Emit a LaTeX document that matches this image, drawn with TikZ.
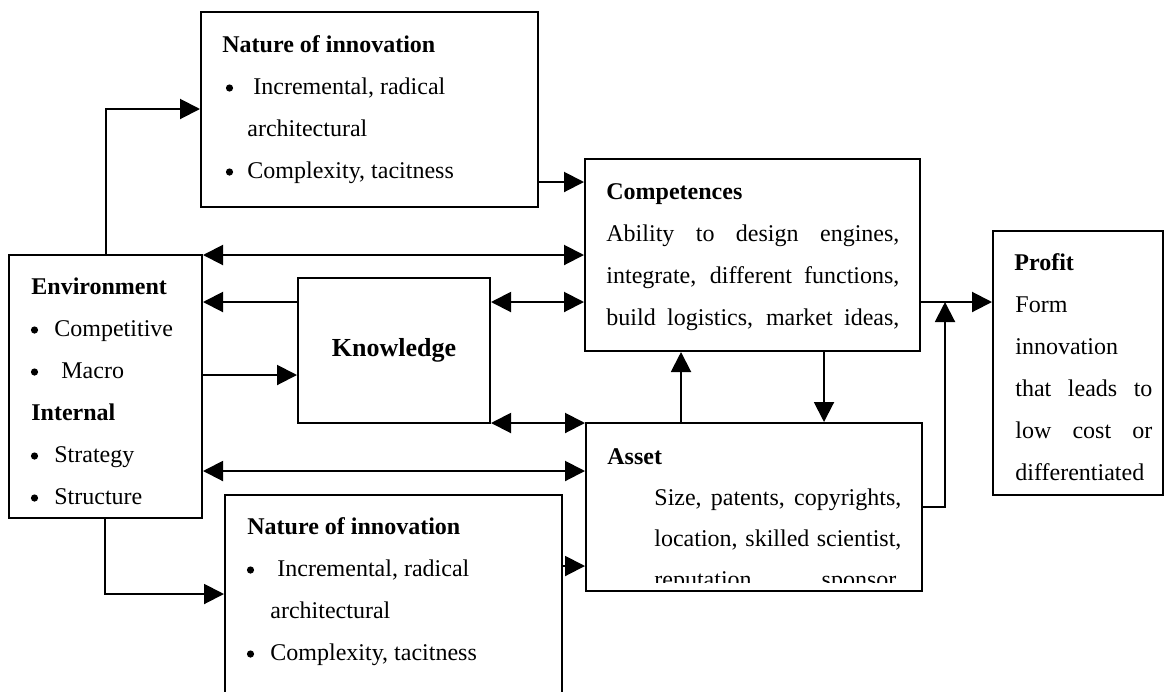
\documentclass[tikz,border=0pt]{standalone}
\usepackage{fontspec}
\setmainfont{Liberation Serif}
\usetikzlibrary{arrows.meta,fit}
\begin{document}
\begin{tikzpicture}[x=0.5pt,y=-0.5pt,
  box/.style={draw,line width=1pt,inner sep=0pt},
  txt/.style={anchor=base west,inner sep=0pt,font=\fontsize{12}{14}\selectfont},
  ttl/.style={txt,font=\fontsize{12}{14}\selectfont\bfseries},
  dot/.style={circle,fill,inner sep=0pt,minimum size=3.6pt},
  conn/.style={line width=1pt},
  arr/.style={conn,-{Triangle[length=10pt,width=10pt]}},
  darr/.style={conn,{Triangle[length=10pt,width=10pt]}-{Triangle[length=10pt,width=10pt]}}]
\clip (0,0) rectangle (1165,691);
\fill[white] (0,0) rectangle (1165,691);
% boxes
\node[box,fit={(201,12) (538,207)}] (nattop) {};
\node[box,fit={(585,159) (920,351)}] (comp) {};
\node[box,fit={(993,231) (1163,495)}] (profit) {};
\node[box,fit={(9,255) (202,518)}] (env) {};
\node[box,fit={(298,278) (490,423)}] (know) {};
\node[box,fit={(586,423) (922,591)}] (asset) {};
\node[box,fit={(225,495) (562,760)}] (natbot) {};
% top nature of innovation
\node[ttl] (nt1) at (222,52) {Nature of innovation};
\node[dot] (nt2b) at (229.5,88) {};
\node[txt] (nt2) at (253,94) {Incremental, radical};
\node[txt] (nt3) at (247,136) {architectural};
\node[dot] (nt4b) at (229.5,172) {};
\node[txt] (nt4) at (247,178) {Complexity, tacitness};
% competences
\node[ttl] (ct1) at (606,199) {Competences};
\node[txt] (ct2) at (606,241) {\makebox[146.5pt][s]{Ability to design engines,}};
\node[txt] (ct3) at (606,283) {\makebox[146.5pt][s]{integrate, different functions,}};
\node[txt] (ct4) at (606,325) {\makebox[146.5pt][s]{build logistics, market ideas,}};
% profit
\node[ttl] (pt1) at (1014,270) {Profit};
\node[txt] (pt2) at (1015,312) {Form};
\node[txt] (pt3) at (1015,354) {innovation};
\node[txt] (pt4) at (1015,396) {\makebox[68.5pt][s]{that leads to}};
\node[txt] (pt5) at (1015,438) {\makebox[68.5pt][s]{low cost or}};
\node[txt] (pt6) at (1015,480) {differentiated};
% environment
\node[ttl] (et1) at (31,294) {Environment};
\node[dot] (et2b) at (34.5,330) {};
\node[txt] (et2) at (54,336) {Competitive};
\node[dot] (et3b) at (34.5,372) {};
\node[txt] (et3) at (61,378) {Macro};
\node[ttl] (et4) at (31,420) {Internal};
\node[dot] (et5b) at (34.5,456) {};
\node[txt] (et5) at (54,462) {Strategy};
\node[dot] (et6b) at (34.5,498) {};
\node[txt] (et6) at (54,504) {Structure};
% knowledge
\node[inner sep=0pt,font=\fontsize{13}{15}\selectfont\bfseries] (kt) at (know.center) {Knowledge};
% asset
\node[ttl] (at1) at (607,464) {Asset};
\begin{scope}
\clip (586,423) rectangle (922,582);
\node[txt] (at2) at (654,505) {\makebox[123.5pt][s]{Size, patents, copyrights,}};
\node[txt] (at3) at (654,546) {\makebox[123.5pt][s]{location, skilled scientist,}};
\node[txt] (at4) at (654,587) {\makebox[123.5pt][s]{reputation, sponsor,}};
\end{scope}
% bottom nature of innovation
\node[ttl] (nb1) at (247,534) {Nature of innovation};
\node[dot] (nb2b) at (250.5,570) {};
\node[txt] (nb2) at (277,576) {Incremental, radical};
\node[txt] (nb3) at (270,618) {architectural};
\node[dot] (nb4b) at (250.5,654) {};
\node[txt] (nb4) at (270,660) {Complexity, tacitness};
% lane coordinates
\coordinate (lnA) at (106,109);
\coordinate (lnB) at (0,182);
\coordinate (lnC) at (0,255);
\coordinate (lnD) at (0,302);
\coordinate (lnE) at (0,375);
\coordinate (lnF) at (0,423);
\coordinate (lnG) at (0,471);
\coordinate (lnH) at (105,594);
\coordinate (lnI) at (0,566);
\coordinate (lnJ) at (681,0);
\coordinate (lnK) at (824,0);
\coordinate (lnM) at (945,507);
\coordinate (junc) at (945,302);
% connectors
\draw[arr] (env.north -| lnA) |- (nattop.west |- lnA);
\draw[arr] (nattop.east |- lnB) -- (comp.west |- lnB);
\draw[darr] (env.east |- lnC) -- (comp.west |- lnC);
\draw[arr] (know.west |- lnD) -- (env.east |- lnD);
\draw[darr] (know.east |- lnD) -- (comp.west |- lnD);
\draw[arr] (env.east |- lnE) -- (know.west |- lnE);
\draw[darr] (know.east |- lnF) -- (asset.west |- lnF);
\draw[darr] (env.east |- lnG) -- (asset.west |- lnG);
\draw[arr] (env.south -| lnH) |- (natbot.west |- lnH);
\draw[arr] (natbot.east |- lnI) -- (asset.west |- lnI);
\draw[arr] (asset.north -| lnJ) -- (comp.south -| lnJ);
\draw[arr] (comp.south -| lnK) -- (asset.north -| lnK);
\draw[arr] (comp.east |- lnD) -- (profit.west |- lnD);
\draw[arr] (asset.east |- lnM) -| (junc);
\end{tikzpicture}
\end{document}
